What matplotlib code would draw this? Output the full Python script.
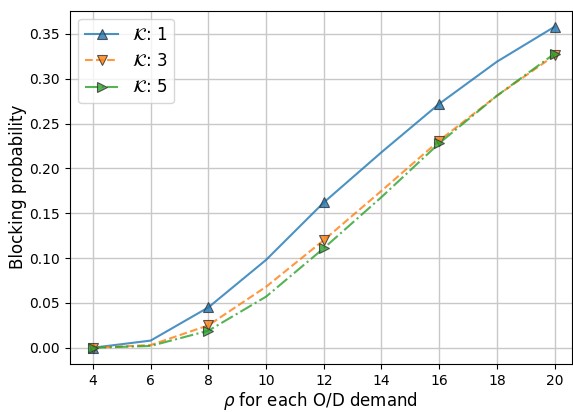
import matplotlib
matplotlib.use("Agg")
import matplotlib.pyplot as plt

RHO = [4, 6, 8, 10, 12, 14, 16, 18, 20]
K1 = [0.0, 0.008, 0.045, 0.098, 0.162, 0.218, 0.272, 0.319, 0.358]
K3 = [0.0, 0.003, 0.025, 0.068, 0.120, 0.175, 0.231, 0.281, 0.326]
K5 = [0.0, 0.002, 0.019, 0.057, 0.111, 0.168, 0.228, 0.281, 0.328]
LABELS = ["1", "3", "5"]

fig, ax = plt.subplots(figsize=(5.73, 4.12), dpi=100)
styles = [("C0", "-", "^"), ("C1", "--", "v"), ("C2", "-.", ">")]
for vals, lab, (c, ls, m) in zip([K1, K3, K5], LABELS, styles):
    ax.plot(RHO, vals, ls, color=c, marker=m, markevery=2, markersize=6.5,
            markeredgecolor="#333", markeredgewidth=0.8, alpha=0.8, lw=1.5,
            label=r"$\mathcal{K}$: " + lab)
ax.set_xticks(RHO)
ax.set_xlim(3.2, 20.6)
ax.tick_params(labelsize=10)
ax.set_xlabel(r"$\rho$ for each O/D demand", fontsize=12, labelpad=2)
ax.set_ylabel("Blocking probability", fontsize=12, labelpad=2)
ax.grid(True, color="#c8c8c8", lw=1)
ax.legend(fontsize=12, loc="upper left")
fig.subplots_adjust(left=0.122, right=0.998, top=0.974, bottom=0.117)
fig.savefig("out.png", dpi=100)
